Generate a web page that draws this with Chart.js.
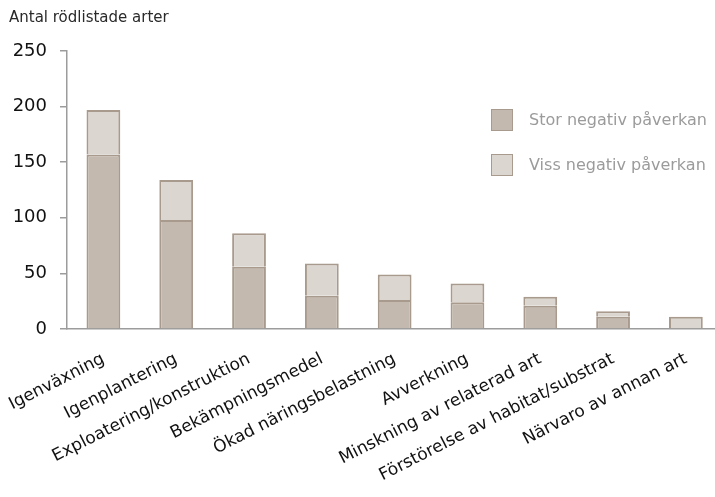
<!DOCTYPE html>
<html lang="sv">
<head>
<meta charset="utf-8">
<title>Antal rödlistade arter</title>
<script src="https://cdn.jsdelivr.net/npm/chart.js@4.4.1/dist/chart.umd.min.js"></script>
<style>
    html, body {
        margin: 0;
        padding: 0;
        background: #fff;
    }
    .wrap {
        position: relative;
        width: 715px;
        height: 497px;
        font-family: "DejaVu Sans", sans-serif;
    }
    .axis-title {
        position: absolute;
        left: 9px;
        top: 8px;
        font-size: 15px;
        color: #2a2a2a;
    }
    .legend {
        position: absolute;
        left: 491px;
        top: 108px;
    }
    .legend-row {
        display: flex;
        align-items: center;
        height: 23px;
        margin-bottom: 22px;
        font-size: 16px;
        color: #9b9b9b;
    }
    .legend-box {
        width: 20px;
        height: 20px;
        margin-right: 16px;
        box-sizing: content-box;
    }
</style>
</head>
<body>
<div class="wrap">
    <canvas id="impactChart" width="715" height="497"></canvas>
    <div class="axis-title">Antal rödlistade arter</div>
    <div class="legend" id="legend"></div>
</div>
<script>
// ===== DATA =====
const categories = [
    "Igenväxning",
    "Igenplantering",
    "Exploatering/konstruktion",
    "Bekämpningsmedel",
    "Ökad näringsbelastning",
    "Avverkning",
    "Minskning av relaterad art",
    "Förstörelse av habitat/substrat",
    "Närvaro av annan art",
];
const seriesLabels = ["Stor negativ påverkan", "Viss negativ påverkan"];
const storValues = [157, 98, 56, 30, 26, 24, 21, 11, 1];
const vissValues = [40, 36, 30, 29, 23, 17, 8, 5, 10];
const yTicks = [0, 50, 100, 150, 200, 250];

// ===== STYLE =====
const STOR_FILL = "#c4b9ae";
const VISS_FILL = "#dcd6d0";
const BAR_EDGE = "#a89a8c";
const AXIS_GREY = "#9c9c9c";

function toPoints(values) {
    return values.map((v, i) => ({ x: i, y: v }));
}

// ===== CHART =====
const ctx = document.getElementById("impactChart").getContext("2d");
const chart = new Chart(ctx, {
    type: "bar",
    data: {
        datasets: [
            {
                label: seriesLabels[0],
                data: toPoints(storValues),
                backgroundColor: STOR_FILL,
                borderColor: BAR_EDGE,
                borderWidth: 2,
                stack: "impact",
            },
            {
                label: seriesLabels[1],
                data: toPoints(vissValues),
                backgroundColor: VISS_FILL,
                borderColor: BAR_EDGE,
                borderWidth: 2,
                stack: "impact",
            },
        ],
    },
    options: {
        responsive: false,
        animation: false,
        barPercentage: 0.58,
        categoryPercentage: 0.8,
        layout: {
            padding: { top: 51, left: 0, right: 0, bottom: 0 },
        },
        plugins: {
            legend: { display: false },
            tooltip: { enabled: false },
        },
        scales: {
            x: {
                type: "linear",
                bounds: "data",
                offset: false,
                min: -0.5,
                max: 8.4,
                afterBuildTicks: (scale) => {
                    scale.ticks = categories.map((_, i) => ({ value: i }));
                },
                afterFit: (scale) => {
                    // rotated labels may hang past the y axis; don't let them push the plot
                    scale.height = 168;
                    scale.paddingLeft = 0;
                    scale.paddingRight = 0;
                },
                grid: { display: false, drawTicks: false, offset: false },
                border: { display: true, color: AXIS_GREY, width: 1.5 },
                ticks: {
                    autoSkip: false,
                    minRotation: 27,
                    maxRotation: 27,
                    padding: 20,
                    color: "#111",
                    font: { family: "DejaVu Sans", size: 17 },
                    callback: (value) => categories[value],
                },
            },
            y: {
                stacked: true,
                min: 0,
                max: 250,
                afterBuildTicks: (scale) => {
                    scale.ticks = yTicks.map((v) => ({ value: v }));
                },
                afterFit: (scale) => {
                    scale.width = 67;
                },
                grid: {
                    drawOnChartArea: false,
                    drawTicks: true,
                    tickLength: 7,
                    color: AXIS_GREY,
                    lineWidth: 1.5,
                },
                border: { display: true, color: AXIS_GREY, width: 1.5 },
                ticks: {
                    padding: 13,
                    color: "#111",
                    font: { family: "DejaVu Sans", size: 18 },
                },
            },
        },
    },
});

// ===== LEGEND =====
const legend = document.getElementById("legend");
chart.data.datasets.forEach((ds) => {
    const row = document.createElement("div");
    row.className = "legend-row";
    const box = document.createElement("span");
    box.className = "legend-box";
    box.style.background = ds.backgroundColor;
    box.style.border = "1.5px solid " + ds.borderColor;
    const text = document.createElement("span");
    text.textContent = ds.label;
    row.appendChild(box);
    row.appendChild(text);
    legend.appendChild(row);
});
</script>
</body>
</html>
